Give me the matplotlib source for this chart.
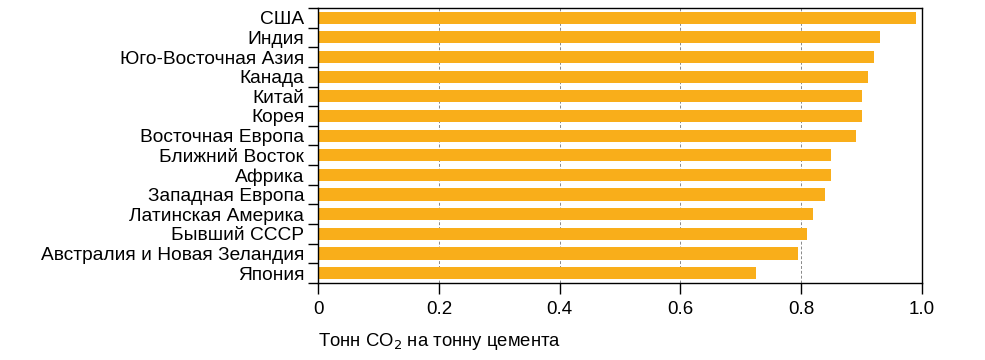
import numpy as np
import matplotlib.pyplot as plt
from matplotlib.ticker import FixedLocator

plt.rcParams['font.family'] = ['Liberation Sans', 'DejaVu Sans']

regions = ['США', 'Индия', 'Юго-Восточная Азия', 'Канада', 'Китай', 'Корея',
           'Восточная Европа', 'Ближний Восток', 'Африка', 'Западная Европа',
           'Латинская Америка', 'Бывший СССР', 'Австралия и Новая Зеландия', 'Япония']
values = [0.99, 0.93, 0.92, 0.91, 0.90, 0.90, 0.89, 0.85, 0.85, 0.84,
          0.82, 0.81, 0.795, 0.725]
xticks = [0, 0.2, 0.4, 0.6, 0.8, 1.0]
xticklabels = ['0', '0.2', '0.4', '0.6', '0.8', '1.0']

fig = plt.figure(figsize=(9.85, 3.6), dpi=100)
ax = fig.add_axes([0.323, 0.214, 0.613, 0.764])

pos = np.arange(len(regions))[::-1]
ax.barh(pos, values, height=0.62, color='#F9AE1A', zorder=2)

ax.set_xlim(0, 1.0)
ax.set_ylim(-0.5, len(regions) - 0.5)

ax.set_yticks(pos)
ax.set_yticklabels(regions, fontsize=13.8)
ax.tick_params(axis='y', which='major', length=0, pad=10)
ax.yaxis.set_minor_locator(FixedLocator(np.arange(-0.5, len(regions), 1.0)))
ax.tick_params(axis='y', which='minor', length=7, width=1, direction='out')

ax.set_xticks(xticks)
ax.set_xticklabels(xticklabels, fontsize=13.5)
ax.tick_params(axis='x', length=8, width=1, direction='out', pad=5)

for x in xticks[1:-1]:
    ax.axvline(x, color='#888888', linestyle=(0, (3, 2)), linewidth=0.7, zorder=1)

for s in ax.spines.values():
    s.set_linewidth(1)

ax.set_xlabel('Тонн CO$_2$ на тонну цемента', fontsize=13.3, loc='left', labelpad=9)

fig.savefig('out.png', dpi=100)
